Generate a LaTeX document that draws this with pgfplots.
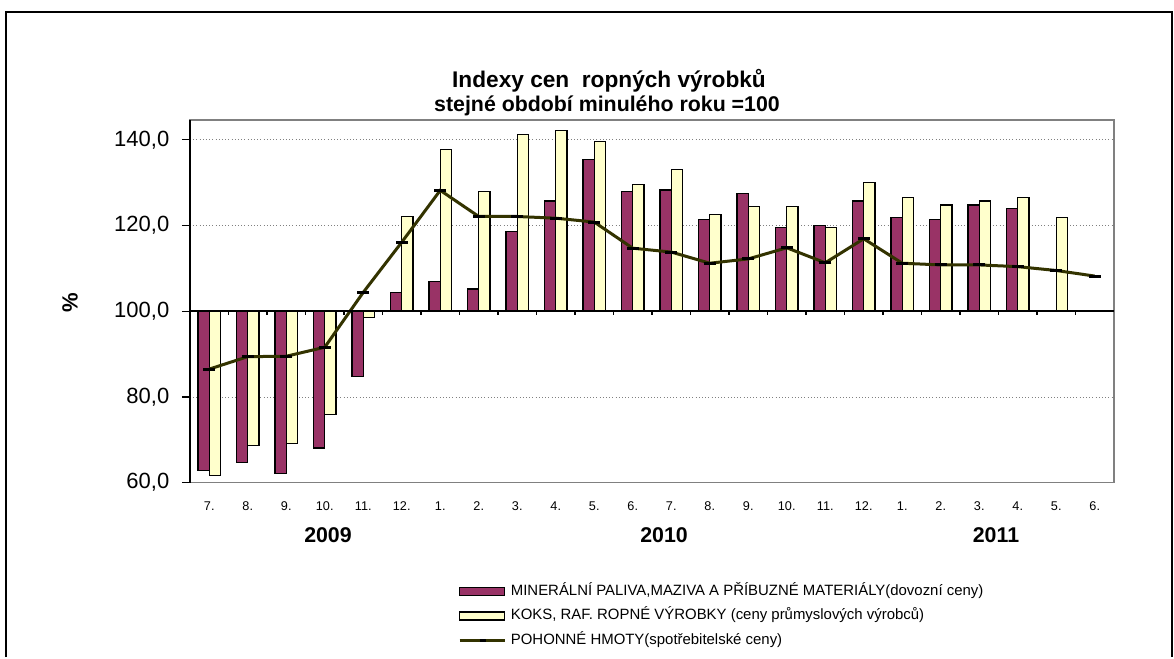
\documentclass[border=0pt]{standalone}
\usepackage{fontspec}
\setmainfont{Liberation Sans}
\usepackage{pgfplots}
\usepackage{pgfplotstable}
\pgfplotsset{compat=1.18}
\definecolor{barmaroon}{RGB}{153,51,102}
\definecolor{baryellow}{RGB}{255,255,204}
\definecolor{lineolive}{RGB}{51,51,0}
\definecolor{framegray}{RGB}{128,128,128}

% MINERALNI PALIVA (dovozni ceny)
\pgfplotstableread{
x y
0 62.9
1 64.7
2 62.1
3 68.1
4 84.8
5 104.4
6 106.9
7 105.2
8 118.6
9 125.7
10 135.3
11 127.9
12 128.3
13 121.4
14 127.4
15 119.6
16 120.0
17 125.7
18 121.8
19 121.4
20 124.8
21 124.0
}\minerals

% KOKS, RAF. ROPNE VYROBKY
\pgfplotstableread{
x y
0 61.6
1 68.6
2 69.2
3 76.0
4 98.6
5 122.1
6 137.8
7 127.9
8 141.3
9 142.2
10 139.5
11 129.6
12 133.1
13 122.6
14 124.4
15 124.4
16 119.6
17 130.1
18 126.6
19 124.8
20 125.7
21 126.6
22 121.8
}\koks

% POHONNE HMOTY
\pgfplotstableread{
x y
0 86.5
1 89.4
2 89.5
3 91.6
4 104.4
5 116.1
6 128.2
7 122.1
8 122.1
9 121.7
10 120.8
11 114.7
12 113.8
13 111.2
14 112.2
15 114.8
16 111.3
17 116.9
18 111.2
19 110.8
20 110.8
21 110.4
22 109.5
23 108.2
}\pohon

\begin{document}
\begin{tikzpicture}
\begin{scope}[x=0.75pt,y=0.75pt,shift={(-142.5pt,-130.725pt)}]
\useasboundingbox (0,0) rectangle (1174,657);
\end{scope}
\begin{axis}[
  anchor=south west,
  scale only axis, width=693pt, height=272pt,
  xmin=-0.5, xmax=23.5, ymin=-40, ymax=44.6,
  clip=false,
  axis line style={draw=framegray, line width=1.1pt},
  ytick={-40,-20,0,20,40},
  yticklabels={{60,0},{80,0},{100,0},{120,0},{140,0}},
  yticklabel style={font=\fontsize{16.5}{18}\selectfont, anchor=east, xshift=-6pt},
  ytick pos=left, tick align=outside, major tick length=6pt,
  y tick style={black, line width=0.9pt},
  ymajorgrids, grid style={gray, dotted, line width=0.7pt},
  xtick={0,...,23},
  xticklabels={7.,8.,9.,10.,11.,12.,1.,2.,3.,4.,5.,6.,7.,8.,9.,10.,11.,12.,1.,2.,3.,4.,5.,6.},
  xticklabel style={font=\fontsize{9.5}{10}\selectfont, yshift=-5pt},
  x tick style={draw=none},
  legend cell align=left,
  legend style={at={(0.29,-0.2785)}, anchor=north west, draw=none, fill=none,
    inner sep=0pt, row sep=7.2pt,
    font=\fontsize{11.2}{12}\selectfont,
    nodes={inner sep=1pt, text height=7.6pt, text depth=1.6pt},
    /tikz/every odd column/.append style={column sep=2.5pt}},
]
\addplot[ybar, bar width=8.5pt, bar shift=-4.25pt, fill=barmaroon, draw=black, line width=0.9pt,
  legend image code/.code={\draw[fill=barmaroon, draw=black, line width=0.9pt] (0pt,-3pt) rectangle (33.75pt,3pt);}]
  table[x=x, y expr=\thisrow{y}-100] {\minerals};
\addlegendentry{MINERÁLNÍ PALIVA,MAZIVA A PŘÍBUZNÉ MATERIÁLY(dovozní ceny)}
\addplot[ybar, bar width=8.5pt, bar shift=4.25pt, fill=baryellow, draw=black, line width=0.9pt,
  legend image code/.code={\draw[fill=baryellow, draw=black, line width=0.9pt] (0pt,-3pt) rectangle (33.75pt,3pt);}]
  table[x=x, y expr=\thisrow{y}-100] {\koks};
\addlegendentry{KOKS, RAF. ROPNÉ VÝROBKY (ceny průmyslových výrobců)}
\addplot[color=lineolive, line width=2.25pt, mark=-, mark size=4.5pt,
  mark options={draw=black, line width=2.25pt},
  legend image code/.code={\draw[lineolive, line width=2.25pt] (0pt,0pt) -- (33.75pt,0pt);
     \draw[black, line width=2.25pt] (15pt,0pt) -- (19.5pt,0pt);}]
  table[x=x, y expr=\thisrow{y}-100] {\pohon};
\addlegendentry{POHONNÉ HMOTY(spotřebitelské ceny)}
% 100 baseline with category separators
\draw[black, line width=1.1pt] (axis cs:-0.5,0) -- (axis cs:23.5,0);
\pgfplotsinvokeforeach{0,...,22}{\draw[black, line width=0.9pt] (axis cs:#1.5,0) -- ++(0pt,-3pt);}
\draw[black, line width=1.1pt] (rel axis cs:0,0) -- (rel axis cs:0,1);
\end{axis}
\begin{scope}[x=0.75pt,y=0.75pt,shift={(-142.5pt,-130.725pt)}]
% outer frame
\draw[black, line width=1.5pt] (6,0) -- (6,645) -- (1172,645) -- (1172,0);
% titles
\node[font=\bfseries\fontsize{17}{19}\selectfont] at (609,576) {Indexy cen\ \ ropných výrobků};
\node[font=\bfseries\fontsize{16}{19}\selectfont] at (607,551) {stejné období minulého roku =100};
% y label
\node[font=\bfseries\fontsize{16.5}{18}\selectfont, rotate=90] at (70,354) {\%};
% years
\node[font=\bfseries\fontsize{16}{18}\selectfont] at (328,122) {2009};
\node[font=\bfseries\fontsize{16}{18}\selectfont] at (664,122) {2010};
\node[font=\bfseries\fontsize{16}{18}\selectfont] at (996,122) {2011};
\end{scope}
\end{tikzpicture}
\end{document}
